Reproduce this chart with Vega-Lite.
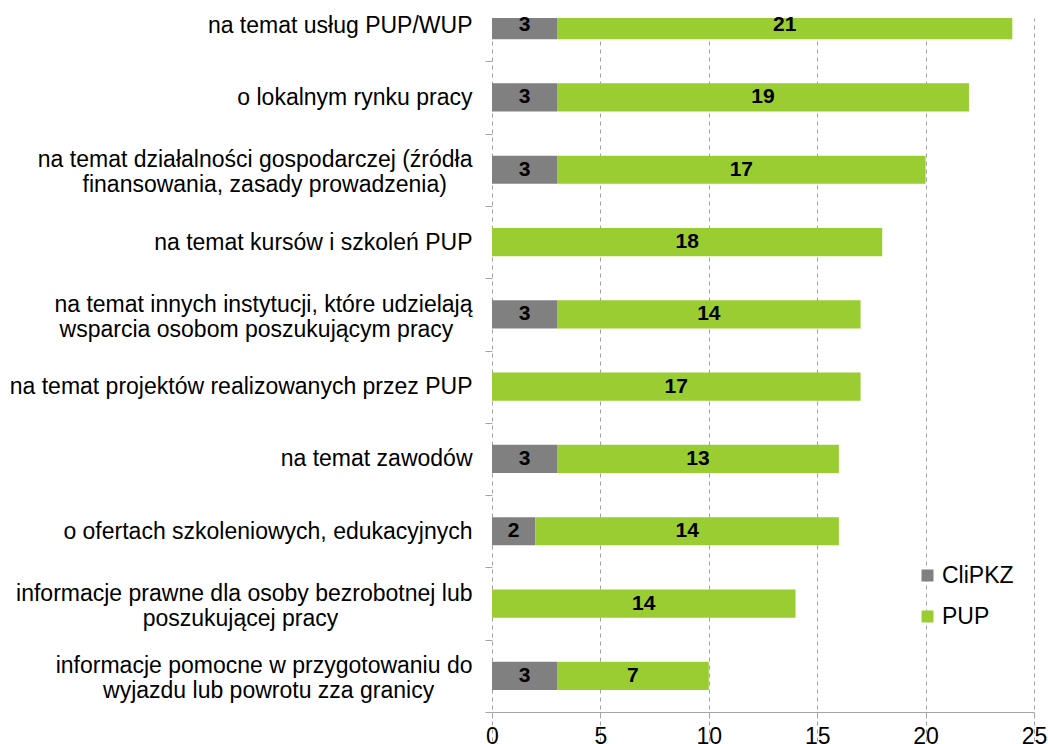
{
  "$schema": "https://vega.github.io/schema/vega-lite/v6.json",
  "width": 542,
  "height": 694,
  "autosize": "none",
  "padding": {"left": 492, "top": 18, "right": 14, "bottom": 32},
  "background": "white",
  "config": {"view": {"stroke": null}, "font": "Liberation Sans"},
  "data": {"values": [
    {"cat": "na temat usług PUP/WUP", "series": "CliPKZ", "value": 3},
    {"cat": "na temat usług PUP/WUP", "series": "PUP", "value": 21},
    {"cat": "o lokalnym rynku pracy", "series": "CliPKZ", "value": 3},
    {"cat": "o lokalnym rynku pracy", "series": "PUP", "value": 19},
    {"cat": "na temat działalności gospodarczej (źródła|finansowania, zasady prowadzenia)\u00a0\u00a0\u00a0\u00a0\u200b", "series": "CliPKZ", "value": 3},
    {"cat": "na temat działalności gospodarczej (źródła|finansowania, zasady prowadzenia)\u00a0\u00a0\u00a0\u00a0\u200b", "series": "PUP", "value": 17},
    {"cat": "na temat kursów i szkoleń PUP", "series": "PUP", "value": 18},
    {"cat": "na temat innych instytucji, które udzielają|wsparcia osobom poszukującym pracy\u00a0\u00a0\u00a0\u200b", "series": "CliPKZ", "value": 3},
    {"cat": "na temat innych instytucji, które udzielają|wsparcia osobom poszukującym pracy\u00a0\u00a0\u00a0\u200b", "series": "PUP", "value": 14},
    {"cat": "na temat projektów realizowanych przez PUP", "series": "PUP", "value": 17},
    {"cat": "na temat zawodów", "series": "CliPKZ", "value": 3},
    {"cat": "na temat zawodów", "series": "PUP", "value": 13},
    {"cat": "o ofertach szkoleniowych, edukacyjnych", "series": "CliPKZ", "value": 2},
    {"cat": "o ofertach szkoleniowych, edukacyjnych", "series": "PUP", "value": 14},
    {"cat": "informacje prawne dla osoby bezrobotnej lub|poszukującej pracy\u00a0\u00a0\u00a0\u00a0\u00a0\u00a0\u00a0\u00a0\u00a0\u00a0\u00a0\u00a0\u00a0\u00a0\u00a0\u00a0\u00a0\u00a0\u00a0\u00a0\u00a0\u200b", "series": "PUP", "value": 14},
    {"cat": "informacje pomocne w przygotowaniu do|wyjazdu lub powrotu zza granicy\u00a0\u00a0\u00a0\u00a0\u00a0\u00a0\u200b", "series": "CliPKZ", "value": 3},
    {"cat": "informacje pomocne w przygotowaniu do|wyjazdu lub powrotu zza granicy\u00a0\u00a0\u00a0\u00a0\u00a0\u00a0\u200b", "series": "PUP", "value": 7}
  ]},
  "transform": [
    {"stack": "value", "groupby": ["cat"], "sort": [{"field": "series", "order": "ascending"}], "as": ["v0", "v1"]},
    {"calculate": "(datum.v0 + datum.v1) / 2", "as": "mid"}
  ],
  "encoding": {
    "y": {
      "field": "cat", "type": "nominal",
      "sort": [
        "na temat usług PUP/WUP",
        "o lokalnym rynku pracy",
        "na temat działalności gospodarczej (źródła|finansowania, zasady prowadzenia)\u00a0\u00a0\u00a0\u00a0\u200b",
        "na temat kursów i szkoleń PUP",
        "na temat innych instytucji, które udzielają|wsparcia osobom poszukującym pracy\u00a0\u00a0\u00a0\u200b",
        "na temat projektów realizowanych przez PUP",
        "na temat zawodów",
        "o ofertach szkoleniowych, edukacyjnych",
        "informacje prawne dla osoby bezrobotnej lub|poszukującej pracy\u00a0\u00a0\u00a0\u00a0\u00a0\u00a0\u00a0\u00a0\u00a0\u00a0\u00a0\u00a0\u00a0\u00a0\u00a0\u00a0\u00a0\u00a0\u00a0\u00a0\u00a0\u200b",
        "informacje pomocne w przygotowaniu do|wyjazdu lub powrotu zza granicy\u00a0\u00a0\u00a0\u00a0\u00a0\u00a0\u200b"
      ],
      "scale": {"range": [-29, 694], "paddingInner": 0, "paddingOuter": 0},
      "axis": {
        "title": null, "domain": false, "ticks": true, "tickBand": "extent",
        "tickColor": "#a6a6a6", "tickSize": 7, "labelFontSize": 23, "labelColor": "#000000",
        "labelPadding": 13, "labelLimit": 600, "labelLineHeight": 25,
        "labelOffset": {"condition": {"test": "datum.value && indexof(datum.value, '|') >= 0", "value": -10}, "value": 0},
        "labelExpr": "datum.value ? split(datum.value, '|') : ''", "grid": false
      }
    }
  },
  "layer": [
    {
      "mark": {"type": "bar", "clip": true, "height": {"band": 0.39}},
      "encoding": {
        "x": {"field": "v0", "type": "quantitative",
          "scale": {"domain": [0, 25], "nice": false},
          "axis": {
            "title": null, "values": [0, 5, 10, 15, 20, 25], "grid": true,
            "gridDash": [4, 4], "gridColor": "#a0a0a0", "domainColor": "#a6a6a6",
            "tickColor": "#a6a6a6", "tickSize": 6, "labelFontSize": 23,
            "labelColor": "#000000", "labelPadding": 7, "labelFlush": false
          }
        },
        "x2": {"field": "v1"},
        "color": {
          "field": "series", "type": "nominal",
          "scale": {"domain": ["CliPKZ", "PUP"], "range": ["#808080", "#9acd32"]},
          "legend": {
            "title": null, "orient": "none", "legendX": 424, "legendY": 546,
            "symbolType": "square", "symbolSize": 144, "symbolStrokeWidth": 0,
            "labelFontSize": 23, "labelColor": "#000000", "labelOffset": 3, "rowPadding": 17
          }
        }
      }
    },
    {
      "mark": {"type": "rule", "color": "#a6a6a6", "strokeWidth": 1},
      "encoding": {"x": {"datum": 0}}
    },
    {
      "mark": {"type": "text", "fontWeight": "bold", "fontSize": 21, "color": "#000000", "baseline": "middle"},
      "encoding": {
        "x": {"field": "mid", "type": "quantitative"},
        "text": {"field": "value", "type": "quantitative"}
      }
    }
  ]
}
